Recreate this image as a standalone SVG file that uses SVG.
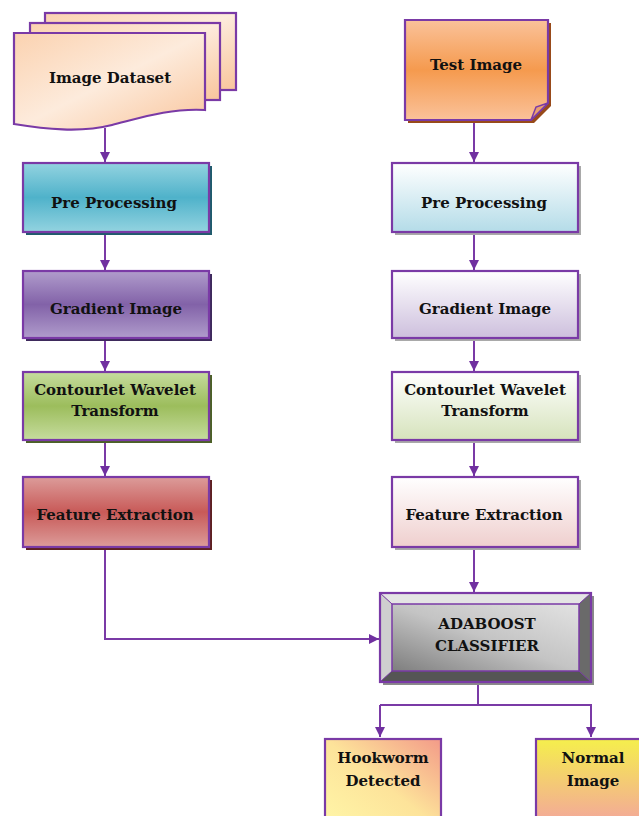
<svg xmlns="http://www.w3.org/2000/svg" width="639" height="816" viewBox="0 0 639 816">
<defs>
<linearGradient id="gPeach" x1="0" y1="0" x2="1" y2="1"><stop offset="0" stop-color="#fbd2b0"/><stop offset="0.5" stop-color="#fdebdc"/><stop offset="1" stop-color="#f9c59c"/></linearGradient>
<linearGradient id="gOrange" x1="0" y1="0" x2="0" y2="1"><stop offset="0" stop-color="#fac29a"/><stop offset="0.5" stop-color="#f59a4e"/><stop offset="1" stop-color="#fac29a"/></linearGradient>
<linearGradient id="gTeal" x1="0" y1="0" x2="0" y2="1"><stop offset="0" stop-color="#93d3e0"/><stop offset="0.5" stop-color="#4fb2ca"/><stop offset="1" stop-color="#93d3e0"/></linearGradient>
<linearGradient id="gPurple" x1="0" y1="0" x2="0" y2="1"><stop offset="0" stop-color="#b09ccc"/><stop offset="0.5" stop-color="#8262a8"/><stop offset="1" stop-color="#b09ccc"/></linearGradient>
<linearGradient id="gGreen" x1="0" y1="0" x2="0" y2="1"><stop offset="0" stop-color="#c6dc9e"/><stop offset="0.5" stop-color="#9cbd5c"/><stop offset="1" stop-color="#c6dc9e"/></linearGradient>
<linearGradient id="gRed" x1="0" y1="0" x2="0" y2="1"><stop offset="0" stop-color="#dc9c9a"/><stop offset="0.5" stop-color="#c85a58"/><stop offset="1" stop-color="#dc9c9a"/></linearGradient>
<linearGradient id="wTeal" x1="0" y1="0" x2="0" y2="1"><stop offset="0" stop-color="#ffffff"/><stop offset="1" stop-color="#b4dce8"/></linearGradient>
<linearGradient id="wPurple" x1="0" y1="0" x2="0" y2="1"><stop offset="0" stop-color="#ffffff"/><stop offset="1" stop-color="#cdbfdd"/></linearGradient>
<linearGradient id="wGreen" x1="0" y1="0" x2="0" y2="1"><stop offset="0" stop-color="#ffffff"/><stop offset="1" stop-color="#d6e3bc"/></linearGradient>
<linearGradient id="wRed" x1="0" y1="0" x2="0" y2="1"><stop offset="0" stop-color="#ffffff"/><stop offset="1" stop-color="#efcfce"/></linearGradient>
<linearGradient id="gGray" x1="1" y1="0" x2="0" y2="1"><stop offset="0" stop-color="#e2e2e2"/><stop offset="0.5" stop-color="#c4c4c4"/><stop offset="1" stop-color="#7e7e7e"/></linearGradient>
<linearGradient id="gHook" x1="0" y1="1" x2="1" y2="0"><stop offset="0" stop-color="#fff7a8"/><stop offset="0.5" stop-color="#fde39a"/><stop offset="1" stop-color="#f39a88"/></linearGradient>
<linearGradient id="gNorm" x1="0" y1="0" x2="0" y2="1"><stop offset="0" stop-color="#f5ef4c"/><stop offset="1" stop-color="#f3a2a0"/></linearGradient>
<marker id="arrw" viewBox="0 0 10 10" refX="10" refY="5" markerWidth="10" markerHeight="10" orient="auto" markerUnits="userSpaceOnUse"><path d="M0,0 L10,5 L0,10 Z" fill="#7030a0"/></marker>
</defs>
<style>
.bd{stroke:#7a3aa6;stroke-width:2.2}
.t{font-family:"DejaVu Serif","Liberation Serif",serif;font-weight:bold;font-size:15px;fill:#111;text-anchor:middle}
.ln{fill:none;stroke:#7a3aa6;stroke-width:2}
</style>
<g id="connectors">
<line class="ln" x1="105" y1="128" x2="105" y2="162" marker-end="url(#arrw)"/>
<line class="ln" x1="105" y1="233" x2="105" y2="270" marker-end="url(#arrw)"/>
<line class="ln" x1="105" y1="339" x2="105" y2="371" marker-end="url(#arrw)"/>
<line class="ln" x1="105" y1="441" x2="105" y2="476" marker-end="url(#arrw)"/>
<line class="ln" x1="474" y1="121" x2="474" y2="162" marker-end="url(#arrw)"/>
<line class="ln" x1="474" y1="233" x2="474" y2="270" marker-end="url(#arrw)"/>
<line class="ln" x1="474" y1="339" x2="474" y2="371" marker-end="url(#arrw)"/>
<line class="ln" x1="474" y1="441" x2="474" y2="476" marker-end="url(#arrw)"/>
<line class="ln" x1="474" y1="548" x2="474" y2="592" marker-end="url(#arrw)"/>
<polyline class="ln" points="105,548 105,639 379,639" marker-end="url(#arrw)"/>
<line class="ln" x1="478" y1="683" x2="478" y2="705"/>
<polyline class="ln" points="380,705 591,705 591,737" marker-end="url(#arrw)"/>
<line class="ln" x1="380" y1="705" x2="380" y2="737" marker-end="url(#arrw)"/>
</g>
<g id="image-dataset">
<rect x="45" y="13" width="191" height="77" fill="url(#gPeach)" class="bd"/>
<rect x="30" y="23" width="190" height="77" fill="url(#gPeach)" class="bd"/>
<path d="M14,33 H205 V110 C170,108 140,118 112,125 C80,133 45,129 14,124 Z" fill="url(#gPeach)" class="bd"/>
<text class="t" x="110" y="83">Image Dataset</text>
</g>
<g id="test-image">
<path d="M408,23 H551 V106 L534,123 H408 Z" fill="#984a1a"/>
<path d="M405,20 H548 V103 L531,120 H405 Z" fill="url(#gOrange)" class="bd"/>
<path d="M548,103 L536,107 L531,120 Z" fill="#e8a070" stroke="#7a3aa6" stroke-width="1.5"/>
<text class="t" x="476" y="70">Test Image</text>
</g>
<g id="pre-left">
<rect x="26" y="166" width="186" height="69" fill="#1f5c6c"/>
<rect x="23" y="163" width="186" height="69" fill="url(#gTeal)" class="bd"/>
<text class="t" x="114" y="208">Pre Processing</text>
</g>
<g id="gradient-left">
<rect x="26" y="274" width="186" height="67" fill="#3e2a5c"/>
<rect x="23" y="271" width="186" height="67" fill="url(#gPurple)" class="bd"/>
<text class="t" x="116" y="314">Gradient Image</text>
</g>
<g id="contourlet-left">
<rect x="26" y="375" width="186" height="68" fill="#4c6127"/>
<rect x="23" y="372" width="186" height="68" fill="url(#gGreen)" class="bd"/>
<text class="t" x="115" y="395">Contourlet Wavelet</text>
<text class="t" x="115" y="416">Transform</text>
</g>
<g id="feature-left">
<rect x="26" y="480" width="186" height="70" fill="#5e2120"/>
<rect x="23" y="477" width="186" height="70" fill="url(#gRed)" class="bd"/>
<text class="t" x="115" y="520">Feature Extraction</text>
</g>
<g id="pre-right">
<rect x="395" y="166" width="186" height="69" fill="#a9a9a9"/>
<rect x="392" y="163" width="186" height="69" fill="url(#wTeal)" class="bd"/>
<text class="t" x="484" y="208">Pre Processing</text>
</g>
<g id="gradient-right">
<rect x="395" y="274" width="186" height="67" fill="#a9a9a9"/>
<rect x="392" y="271" width="186" height="67" fill="url(#wPurple)" class="bd"/>
<text class="t" x="485" y="314">Gradient Image</text>
</g>
<g id="contourlet-right">
<rect x="395" y="375" width="186" height="68" fill="#a9a9a9"/>
<rect x="392" y="372" width="186" height="68" fill="url(#wGreen)" class="bd"/>
<text class="t" x="485" y="395">Contourlet Wavelet</text>
<text class="t" x="485" y="416">Transform</text>
</g>
<g id="feature-right">
<rect x="395" y="480" width="186" height="70" fill="#a9a9a9"/>
<rect x="392" y="477" width="186" height="70" fill="url(#wRed)" class="bd"/>
<text class="t" x="484" y="520">Feature Extraction</text>
</g>
<g id="adaboost">
<rect x="383" y="596" width="211" height="89" fill="#8a8a8a"/>
<rect x="392" y="604" width="187" height="67" fill="url(#gGray)"/>
<polygon points="380,593 591,593 579,604 392,604" fill="#e4e4e4"/>
<polygon points="380,593 392,604 392,671 380,682" fill="#cfcfcf"/>
<polygon points="591,593 591,682 579,671 579,604" fill="#6a6a6a"/>
<polygon points="380,682 591,682 579,671 392,671" fill="#555555"/>
<rect x="392" y="604" width="187" height="67" fill="none" stroke="#7a3aa6" stroke-width="1.5"/>
<line x1="380" y1="593" x2="392" y2="604" stroke="#7a3aa6" stroke-width="1"/>
<line x1="591" y1="593" x2="579" y2="604" stroke="#7a3aa6" stroke-width="1"/>
<line x1="380" y1="682" x2="392" y2="671" stroke="#7a3aa6" stroke-width="1"/>
<line x1="591" y1="682" x2="579" y2="671" stroke="#7a3aa6" stroke-width="1"/>
<rect x="380" y="593" width="211" height="89" fill="none" class="bd"/>
<text class="t" x="487" y="629">ADABOOST</text>
<text class="t" x="487" y="651">CLASSIFIER</text>
</g>
<g id="hookworm">
<rect x="325" y="739" width="116" height="90" fill="url(#gHook)" class="bd"/>
<text class="t" x="383" y="763">Hookworm</text>
<text class="t" x="383" y="786">Detected</text>
</g>
<g id="normal">
<rect x="536" y="739" width="116" height="90" fill="url(#gNorm)" class="bd"/>
<text class="t" x="593" y="763">Normal</text>
<text class="t" x="593" y="786">Image</text>
</g>
</svg>
